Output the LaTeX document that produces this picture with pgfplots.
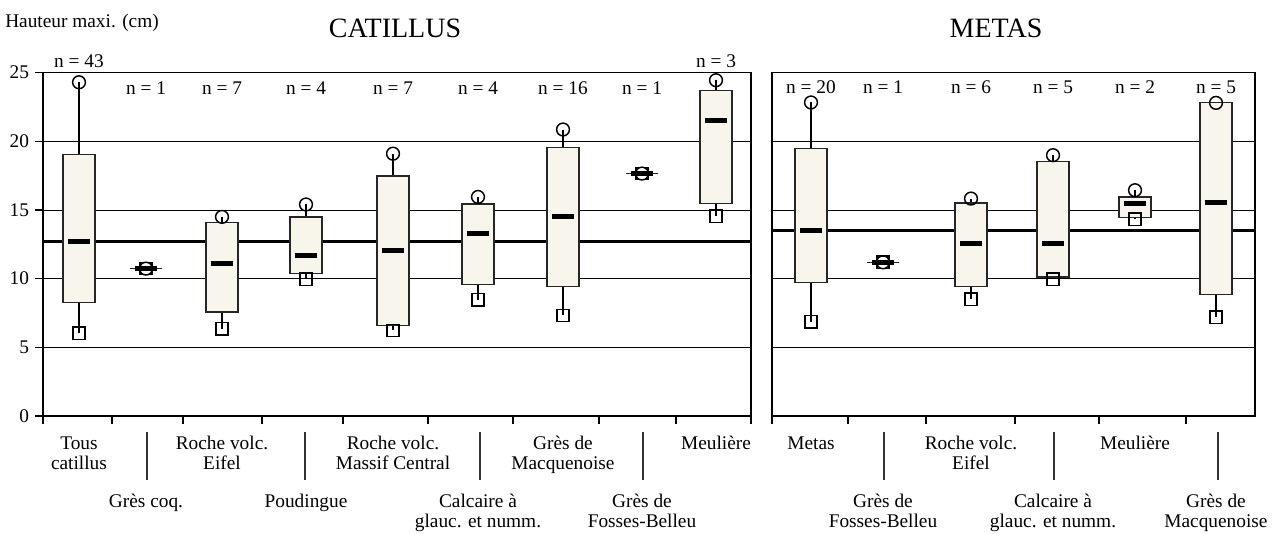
\documentclass[border=0pt]{standalone}
\usepackage{pgfplots}
\pgfplotsset{compat=1.18}
\usepgfplotslibrary{statistics}
\usepackage{fontspec}
\setmainfont{Liberation Serif}
\definecolor{boxfill}{RGB}{248,245,236}
\newcommand\lab{\fontsize{14.5pt}{15pt}\selectfont}
\newcommand\ttl{\fontsize{21pt}{22pt}\selectfont}

\pgfplotsset{
  boxplot/draw direction=y,
  boxplot/draw/median/.code={\draw[line width=3.5pt,black] (boxplot box cs:\pgfplotsboxplotvalue{median},0.15) -- (boxplot box cs:\pgfplotsboxplotvalue{median},0.85);},
  boxplot/draw/lower whisker/.code={\draw[black,line width=0.9pt] (boxplot cs:\pgfplotsboxplotvalue{lower quartile}) -- (boxplot cs:\pgfplotsboxplotvalue{lower whisker});},
  boxplot/draw/upper whisker/.code={\draw[black,line width=0.9pt] (boxplot cs:\pgfplotsboxplotvalue{upper quartile}) -- (boxplot cs:\pgfplotsboxplotvalue{upper whisker});},
  bx/.style n args={6}{draw=black!85, line width=0.9pt, fill=boxfill,
    boxplot prepared={draw direction=y, draw position=#1, lower whisker=#2, lower quartile=#3, median=#4, upper quartile=#5, upper whisker=#6, box extend=0.32}},
  panel/.style={scale only axis, anchor=south west, ymin=0, ymax=25,
    ymajorgrids, grid style={black, line width=0.7pt},
    axis line style={black, line width=0.8pt}, tick style={black, line width=0.8pt},
    tick align=outside, major tick length=6pt, xticklabels={},
    xtick pos=bottom, ytick pos=left, clip=false,
    /pgf/number format/assume math mode=true},
  maxm/.style={only marks, mark=o, mark size=4.8pt, mark options={line width=1.1pt, draw=black, fill=white}},
  minm/.style={only marks, mark=square, mark size=4.6pt, mark options={line width=1.1pt, draw=black, fill=white}},
  maxo/.style={only marks, mark=o, mark size=4.8pt, mark options={line width=1.1pt, draw=black, fill=none}},
  mino/.style={only marks, mark=square, mark size=4.6pt, mark options={line width=1.1pt, draw=black, fill=none}},
}

\begin{document}
\begin{tikzpicture}
\useasboundingbox (0,0) rectangle (961.5pt,400.5pt);

% ---------- CATILLUS (x = pixel/100) ----------
\begin{axis}[panel, at={(32.25pt,88.5pt)}, width=531pt, height=257.5pt,
  xmin=0.43, xmax=7.51, xtick={0.43,1.12,1.83,2.62,3.43,4.28,5.13,5.99,6.76,7.51},
  ytick={0,5,...,25}, yticklabel style={font=\lab, xshift=-1pt}]
\addplot[black, line width=2.2pt] coordinates {(0.43,12.7) (7.51,12.7)};
\addplot[bx={0.79}{6.03}{8.27}{12.7}{19.06}{24.3}] coordinates {};
\addplot[bx={2.22}{6.35}{7.57}{11.09}{14.08}{14.5}] coordinates {};
\addplot[bx={3.06}{9.95}{10.36}{11.68}{14.49}{15.4}] coordinates {};
\addplot[bx={3.93}{6.23}{6.6}{12.04}{17.48}{19.1}] coordinates {};
\addplot[bx={4.78}{8.47}{9.56}{13.28}{15.44}{15.95}] coordinates {};
\addplot[bx={5.63}{7.32}{9.44}{14.52}{19.57}{20.86}] coordinates {};
\addplot[bx={7.16}{14.54}{15.47}{21.5}{23.7}{24.45}] coordinates {};
\addplot[maxm] coordinates {(0.79,24.3) (2.22,14.5) (3.06,15.4) (3.93,19.1) (4.78,15.95) (5.63,20.86) (7.16,24.45)};
\addplot[minm] coordinates {(0.79,6.03) (2.22,6.35) (3.06,9.95) (3.93,6.23) (4.78,8.47) (5.63,7.32) (7.16,14.54)};
% single specimens (n = 1)
\addplot[maxo] coordinates {(1.46,10.73) (6.42,17.65)};
\addplot[mino] coordinates {(1.46,10.73) (6.42,17.65)};
\addplot[bx={1.46}{10.73}{10.73}{10.73}{10.73}{10.73}] coordinates {};
\addplot[bx={6.42}{17.65}{17.65}{17.65}{17.65}{17.65}] coordinates {};
\end{axis}

% ---------- METAS (x = (pixel - 700)/100) ----------
\begin{axis}[panel, at={(579pt,88.5pt)}, width=362.25pt, height=257.5pt,
  xmin=0.72, xmax=5.55, xtick={0.72,1.48,2.26,3.15,3.99,4.86},
  ytick={0,5,...,25}, yticklabels={}, ytick style={draw opacity=0}]
\addplot[black, line width=2.2pt] coordinates {(0.72,13.5) (5.55,13.5)};
\addplot[bx={1.11}{6.87}{9.73}{13.5}{19.45}{22.83}] coordinates {};
\addplot[bx={2.71}{8.51}{9.44}{12.57}{15.51}{15.83}] coordinates {};
\addplot[bx={3.53}{9.95}{10.12}{12.57}{18.55}{18.99}] coordinates {};
\addplot[bx={4.35}{14.32}{14.47}{15.47}{15.95}{16.44}] coordinates {};
\addplot[bx={5.16}{7.2}{8.83}{15.54}{22.8}{22.8}] coordinates {};
\addplot[maxm] coordinates {(1.11,22.83) (2.71,15.83) (3.53,18.99) (4.35,16.44)};
\addplot[maxo] coordinates {(5.16,22.8)};
\addplot[minm] coordinates {(1.11,6.87) (2.71,8.51) (3.53,9.95) (4.35,14.32) (5.16,7.2)};
% single specimen (n = 1)
\addplot[maxo] coordinates {(1.83,11.19)};
\addplot[mino] coordinates {(1.83,11.19)};
\addplot[bx={1.83}{11.19}{11.19}{11.19}{11.19}{11.19}] coordinates {};
\end{axis}

% ---------- texts ----------
\begin{scope}[x=0.75pt,y=0.75pt]
\node[anchor=base west, inner sep=0pt, font=\lab] at (5,534-28) {Hauteur maxi. (cm)};
\node[anchor=base, inner sep=0pt, font=\ttl] at (395,534-38) {CATILLUS};
\node[anchor=base, inner sep=0pt, font=\ttl] at (996,534-38) {METAS};

\foreach \x/\t in {79/43, 716/3} \node[anchor=base, inner sep=0pt, font=\lab] at (\x,534-68) {n = \t};
\foreach \x/\t in {146/1, 222/7, 306/4, 393/7, 478/4, 563/16, 642/1} \node[anchor=base, inner sep=0pt, font=\lab] at (\x,534-95) {n = \t};
\foreach \x/\t in {811/20, 883/1, 971/6, 1053/5, 1135/2, 1216/5} \node[anchor=base, inner sep=0pt, font=\lab] at (\x,534-94) {n = \t};

\foreach \x/\a/\b in {79/Tous/catillus, 222/Roche volc./Eifel, 393/Roche volc./Massif Central, 563/Grès de/Macquenoise, 716/Meulière/, 811/Metas/, 971/Roche volc./Eifel, 1135/Meulière/}{
  \node[anchor=base, inner sep=0pt, font=\lab] at (\x,534-450) {\a};
  \node[anchor=base, inner sep=0pt, font=\lab] at (\x,534-470) {\b};
}
\foreach \x/\a/\b in {146/Grès coq./, 306/Poudingue/, 478/Calcaire à/glauc. et numm., 642/Grès de/Fosses-Belleu, 883/Grès de/Fosses-Belleu, 1053/Calcaire à/glauc. et numm., 1216/Grès de/Macquenoise}{
  \node[anchor=base, inner sep=0pt, font=\lab] at (\x,534-508) {\a};
  \node[anchor=base, inner sep=0pt, font=\lab] at (\x,534-528) {\b};
}
\foreach \x in {147,305,480,643,884,1054,1218} \draw[black!80, line width=0.8pt] (\x,534-432) -- (\x,534-480);
\end{scope}
\end{tikzpicture}
\end{document}
